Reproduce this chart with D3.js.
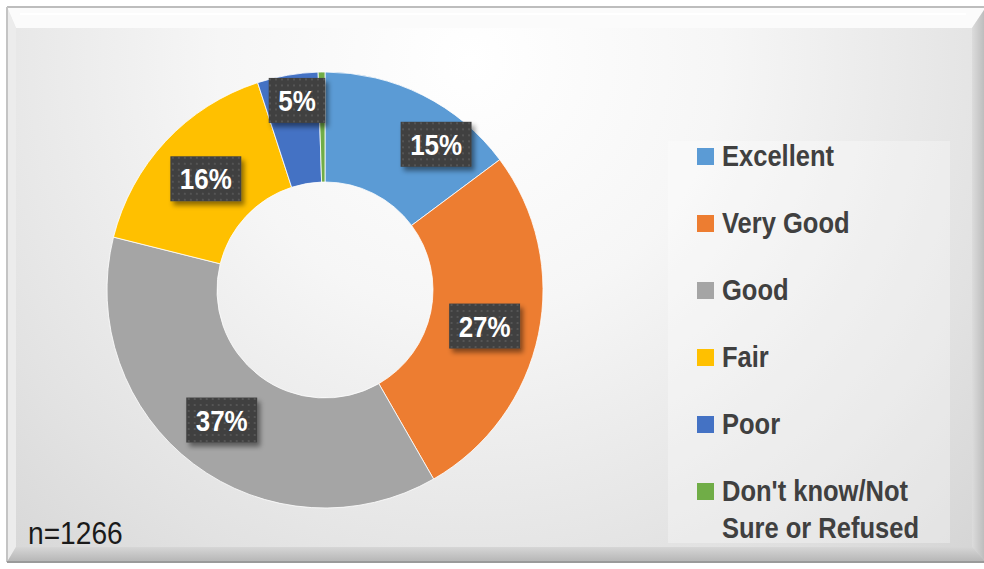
<!DOCTYPE html>
<meta charset="utf-8">
<style>
  body { margin: 0; background: #fff; }
  text { font-family: "Liberation Sans", Arial, sans-serif; }
</style>
<body>
<script src="https://cdn.jsdelivr.net/npm/d3@7/dist/d3.min.js"></script>
<script>
// chart data
var categories = ["Excellent", "Very Good", "Good", "Fair", "Poor", "Don't know/Not Sure or Refused"];
var percents = [14.8, 26.9, 37.2, 16.1, 4.5, 0.5];
var colors = ["#5B9BD5", "#ED7D31", "#A5A5A5", "#FFC000", "#4472C4", "#70AD47"];
var sampleNote = "n=1266";

// label nudges (Excel had two labels dragged off the centroid)
var labelShift = [[38, 0], [0, 3], [-5, 0], [0, 0], [0, -29], [0, 0]];

var W = 984, H = 569;
var sx = 0.88; // the fonts look horizontally condensed

var svg = d3.select("body").append("svg")
    .attr("width", W)
    .attr("height", H);

var defs = svg.append("defs");

var bg = defs.append("radialGradient")
    .attr("id", "bg")
    .attr("gradientUnits", "userSpaceOnUse")
    .attr("cx", 470).attr("cy", 60).attr("r", 720);
bg.append("stop").attr("offset", 0).attr("stop-color", "#ffffff");
bg.append("stop").attr("offset", 0.35).attr("stop-color", "#f6f6f6");
bg.append("stop").attr("offset", 0.75).attr("stop-color", "#e2e2e2");
bg.append("stop").attr("offset", 1).attr("stop-color", "#d4d4d4");

var shadow = defs.append("filter").attr("id", "shadow")
    .attr("x", "-20%").attr("y", "-20%").attr("width", "150%").attr("height", "160%");
shadow.append("feDropShadow")
    .attr("dx", 3).attr("dy", 4).attr("stdDeviation", 2.5)
    .attr("flood-color", "#000").attr("flood-opacity", 0.45);

var dots = defs.append("pattern").attr("id", "dots")
    .attr("patternUnits", "userSpaceOnUse")
    .attr("width", 6).attr("height", 6);
dots.append("rect").attr("width", 6).attr("height", 6).attr("fill", "#3f3f3f");
dots.append("rect").attr("x", 2).attr("y", 2).attr("width", 2).attr("height", 2).attr("fill", "#555");

var rightGrad = defs.append("linearGradient").attr("id", "rightBevel");
rightGrad.append("stop").attr("offset", 0).attr("stop-color", "#dcdcdc");
rightGrad.append("stop").attr("offset", 1).attr("stop-color", "#b8b8b8");

var botGrad = defs.append("linearGradient").attr("id", "botBevel")
    .attr("x1", 0).attr("y1", 0).attr("x2", 0).attr("y2", 1);
botGrad.append("stop").attr("offset", 0).attr("stop-color", "#d6d6d6");
botGrad.append("stop").attr("offset", 1).attr("stop-color", "#b5b5b5");

// frame with bevel
var outer = {x0: 7, y0: 7, x1: 986, y1: 562};
var inner = {x0: 16, y0: 28, x1: 972, y1: 547};

svg.append("rect")
    .attr("x", outer.x0).attr("y", outer.y0)
    .attr("width", outer.x1 - outer.x0).attr("height", outer.y1 - outer.y0)
    .attr("fill", "url(#bg)");

function quad(pts, fill) {
  svg.append("path")
      .attr("d", "M" + pts.map(function(p) { return p.join(","); }).join("L") + "Z")
      .attr("fill", fill);
}
quad([[outer.x0, outer.y0], [outer.x1, outer.y0], [inner.x1, inner.y0], [inner.x0, inner.y0]], "#fbfbfb");
quad([[outer.x0, outer.y0], [inner.x0, inner.y0], [inner.x0, inner.y1], [outer.x0, outer.y1]], "#ececec");
quad([[outer.x1, outer.y0], [outer.x1, outer.y1], [inner.x1, inner.y1], [inner.x1, inner.y0]], "url(#rightBevel)");
quad([[outer.x0, outer.y1], [inner.x0, inner.y1], [inner.x1, inner.y1], [outer.x1, outer.y1]], "url(#botBevel)");

svg.append("line")
    .attr("x1", outer.x0).attr("x2", W).attr("y1", outer.y0).attr("y2", outer.y0)
    .attr("stroke", "#bdbdbd").attr("stroke-width", 2);
svg.append("line")
    .attr("x1", outer.x0).attr("x2", outer.x0).attr("y1", outer.y0).attr("y2", outer.y1)
    .attr("stroke", "#c4c4c4").attr("stroke-width", 2);
svg.append("line")
    .attr("x1", outer.x0).attr("x2", W).attr("y1", outer.y1).attr("y2", outer.y1)
    .attr("stroke", "#9a9a9a").attr("stroke-width", 2);
svg.append("line")
    .attr("x1", 20).attr("x2", 966).attr("y1", 14).attr("y2", 14)
    .attr("stroke", "#ffffff").attr("stroke-width", 2);

// donut
var cx = 325, cy = 290, rOuter = 218, rInner = 108;
var pie = d3.pie().sort(null).value(function(d) { return d; });
var arc = d3.arc().innerRadius(rInner).outerRadius(rOuter);
var labelArc = d3.arc().innerRadius(163).outerRadius(163);
var arcs = pie(percents);

var g = svg.append("g").attr("transform", "translate(" + cx + "," + cy + ")");

g.selectAll("path.slice")
    .data(arcs)
    .enter().append("path")
    .attr("class", "slice")
    .attr("d", arc)
    .attr("fill", function(d, i) { return colors[i]; })
    .attr("stroke", "#ffffff")
    .attr("stroke-width", 0.8);

// data labels (dark boxes)
var labels = g.selectAll("g.lbl")
    .data(arcs.filter(function(d) { return d.data >= 1; }))
    .enter().append("g")
    .attr("class", "lbl")
    .attr("transform", function(d) {
      var c = labelArc.centroid(d), s = labelShift[d.index];
      return "translate(" + (c[0] + s[0]) + "," + (c[1] + s[1]) + ")";
    });

labels.each(function(d) {
  var sel = d3.select(this);
  var txt = Math.round(d.data) + "%";
  var t = sel.append("text")
      .attr("text-anchor", "middle")
      .attr("transform", "scale(" + sx + ",1)")
      .attr("y", 10.5)
      .attr("fill", "#ffffff")
      .attr("font-weight", "bold")
      .attr("font-size", 29.5)
      .text(txt);
  var w = t.node().getComputedTextLength() * sx + 19;
  sel.insert("rect", "text")
      .attr("x", -w / 2).attr("y", -22.5)
      .attr("width", w).attr("height", 45)
      .attr("fill", "url(#dots)")
      .attr("filter", "url(#shadow)");
});

// legend
svg.append("rect")
    .attr("x", 668).attr("y", 141)
    .attr("width", 282).attr("height", 402)
    .attr("fill", "#ffffff").attr("fill-opacity", 0.3);

var legend = svg.selectAll("g.leg")
    .data(categories)
    .enter().append("g")
    .attr("class", "leg")
    .attr("transform", function(d, i) { return "translate(697," + (148 + i * 67) + ")"; });

legend.append("rect")
    .attr("width", 17).attr("height", 17)
    .attr("fill", function(d, i) { return colors[i]; });

legend.each(function(d) {
  var lines = d === "Don't know/Not Sure or Refused" ? ["Don't know/Not", "Sure or Refused"] : [d];
  var t = d3.select(this).append("text")
      .attr("transform", "translate(25,18) scale(" + sx + ",1)")
      .attr("fill", "#404040")
      .attr("font-weight", "bold")
      .attr("font-size", 29)
      .text(null);
  lines.forEach(function(line, k) {
    t.append("tspan").attr("x", 0).attr("y", k * 37).text(line);
  });
});

svg.append("text")
    .attr("transform", "translate(28,544) scale(" + sx + ",1)")
    .attr("fill", "#1a1a1a")
    .attr("font-size", 32)
    .text(sampleNote);
</script>
</body>
